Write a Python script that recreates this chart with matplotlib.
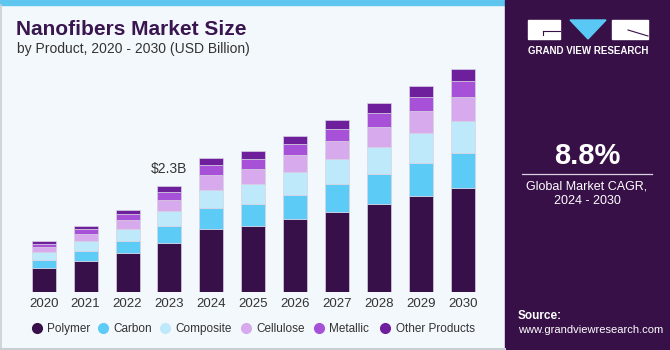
import numpy as np
import matplotlib
matplotlib.use('Agg')
import matplotlib.pyplot as plt
from matplotlib.patches import Rectangle, Polygon
from matplotlib.lines import Line2D
from matplotlib.colors import LinearSegmentedColormap

plt.rcParams['font.family'] = ['Liberation Sans', 'DejaVu Sans']

years = ['2020', '2021', '2022', '2023', '2024', '2025', '2026', '2027', '2028', '2029', '2030']
segments = ['Polymer', 'Carbon', 'Composite', 'Cellulose', 'Metallic', 'Other Products']
polymer = [0.52, 0.67, 0.84, 1.07, 1.36, 1.44, 1.58, 1.75, 1.92, 2.09, 2.27]
carbon = [0.17, 0.22, 0.28, 0.36, 0.46, 0.48, 0.54, 0.60, 0.65, 0.72, 0.76]
composite = [0.17, 0.21, 0.25, 0.34, 0.41, 0.44, 0.49, 0.54, 0.59, 0.64, 0.70]
cellulose = [0.12, 0.16, 0.20, 0.24, 0.32, 0.32, 0.36, 0.40, 0.44, 0.48, 0.52]
metallic = [0.07, 0.10, 0.12, 0.16, 0.21, 0.22, 0.24, 0.26, 0.29, 0.32, 0.35]
other = [0.07, 0.08, 0.10, 0.13, 0.15, 0.17, 0.18, 0.20, 0.22, 0.24, 0.25]
colors = ['#371049', '#5ccbf6', '#bee9fa', '#d6aaec', '#a651d7', '#6e209c']
label_year = '2023'
label_text = '$2.3B'

W, H = 670, 350
fig = plt.figure(figsize=(6.7, 3.5), dpi=100)
fig.patch.set_facecolor('#f3f8fc')


def px(x, y):
    # pixel coords from top-left -> figure fraction
    return x / W, 1 - y / H


# card background, blue top strip and border
fig.patches.append(Rectangle(px(0, 5), 505 / W, 5 / H, transform=fig.transFigure,
                             color='#5ec6ef', zorder=0))
fig.add_artist(Line2D([0.5 / W, 0.5 / W], [0, 1 - 5 / H], color='#c9ced3', lw=1.2,
                      transform=fig.transFigure))
fig.add_artist(Line2D([0, 505 / W], [0.8 / H, 0.8 / H], color='#c9ced3', lw=1.5,
                      transform=fig.transFigure))

# right panel
fig.patches.append(Rectangle(px(505, 350), 165 / W, 1, transform=fig.transFigure,
                             color='#371047', zorder=0))
gax = fig.add_axes([505 / W, 0, 165 / W, 68 / H])
cmap = LinearSegmentedColormap.from_list('g', ['#371047', '#3d3a7e', '#4a78b8', '#4fb0e2'])
grad = np.linspace(0, 1, 100).reshape(-1, 1)
gax.imshow(grad, aspect='auto', cmap=cmap, extent=[0, 1, 0, 1], origin='upper')
for k in range(1, 14):
    yy = (k / 14) ** 1.6
    gax.plot([0, 1], [1 - yy, 1 - yy], color='white', alpha=0.12, lw=0.6)
for k in range(-12, 13):
    gax.plot([0.5 + k * 0.02, 0.5 + k * 0.16], [1, 0], color='white', alpha=0.12, lw=0.6)
gax.set_xlim(0, 1)
gax.set_ylim(0, 1)
gax.axis('off')

# logo
fig.patches.append(Rectangle(px(528, 39), 32 / W, 19 / H, transform=fig.transFigure,
                             color='white'))
fig.patches.append(Rectangle(px(612, 39), 36 / W, 19 / H, transform=fig.transFigure,
                             color='white'))
fig.patches.append(Polygon([px(570, 20), px(606, 20), px(588, 39)], closed=True,
                           transform=fig.transFigure, color='#5ac8f5'))
fig.add_artist(Line2D([543 / W, 560 / W], [1 - 31 / H, 1 - 31 / H], color='#371047', lw=0.8,
                      transform=fig.transFigure))
fig.add_artist(Line2D([543 / W, 543 / W], [1 - 31 / H, 1 - 35 / H], color='#371047', lw=0.8,
                      transform=fig.transFigure))
fig.add_artist(Line2D([628 / W, 648 / W], [1 - 30 / H, 1 - 36 / H], color='#371047', lw=0.8,
                      transform=fig.transFigure))
fig.text(*px(588, 51), 'GRAND VIEW RESEARCH', color='white', fontsize=7, fontweight='bold',
         ha='center', va='center')

fig.text(*px(587, 156), '8.8%', color='white', fontsize=21, fontweight='bold',
         ha='center', va='center')
fig.add_artist(Line2D([522 / W, 652 / W], [1 - 173.5 / H, 1 - 173.5 / H], color='#d9d0e0',
                      lw=0.9, transform=fig.transFigure))
fig.text(*px(587, 186), 'Global Market CAGR,', color='white', fontsize=9,
         ha='center', va='center')
fig.text(*px(587, 201), '2024 - 2030', color='white', fontsize=9,
         ha='center', va='center')
fig.text(*px(518, 316), 'Source:', color='white', fontsize=8.5, fontweight='bold',
         ha='left', va='center')
fig.text(*px(518, 330), 'www.grandviewresearch.com', color='white', fontsize=8,
         ha='left', va='center')

# titles
fig.text(*px(16, 35), 'Nanofibers Market Size', color='#3a1650', fontsize=15,
         fontweight='heavy', ha='left', va='baseline')
fig.text(*px(17, 49), 'by Product, 2020 - 2030 (USD Billion)', color='#333333',
         fontsize=10, ha='left', va='center')

# chart
ax = fig.add_axes([22.75 / W, 58 / H, 461 / W, 229.8 / H])
ax.set_facecolor('none')
x = np.arange(len(years))
series = [polymer, carbon, composite, cellulose, metallic, other]
bottom = np.zeros(len(years))
for name, vals, c in zip(segments, series, colors):
    ax.bar(x, vals, bottom=bottom, width=0.573, color=c, edgecolor='#d8d2e2',
           linewidth=0.5, label=name, zorder=3)
    bottom += np.array(vals)

i = years.index(label_year)
ax.text(x[i], bottom[i] + 0.3, label_text, ha='center', va='baseline',
        fontsize=10, color='#333333')

ax.set_xlim(-0.5, len(years) - 0.5)
ax.set_ylim(0, 5.0)
ax.set_xticks(x)
ax.set_xticklabels(years, fontsize=9.5, color='#333333')
ax.tick_params(axis='x', length=0, pad=4)
ax.set_yticks([])
for s in ax.spines.values():
    s.set_visible(False)

# legend, laid out as in the reference
dot_x = [36.7, 102.7, 165, 245.7, 319, 385]
for name, c, dx in zip(segments, colors, dot_x):
    fig.add_artist(Line2D([dx / W], [1 - 327.5 / H], marker='o', markersize=7,
                          color=c, linestyle='none', transform=fig.transFigure))
    fig.text(*px(dx + 10.5, 327.5), name, fontsize=8.5, color='#333333',
             ha='left', va='center_baseline')

fig.savefig('out.png', dpi=100, facecolor=fig.get_facecolor())
